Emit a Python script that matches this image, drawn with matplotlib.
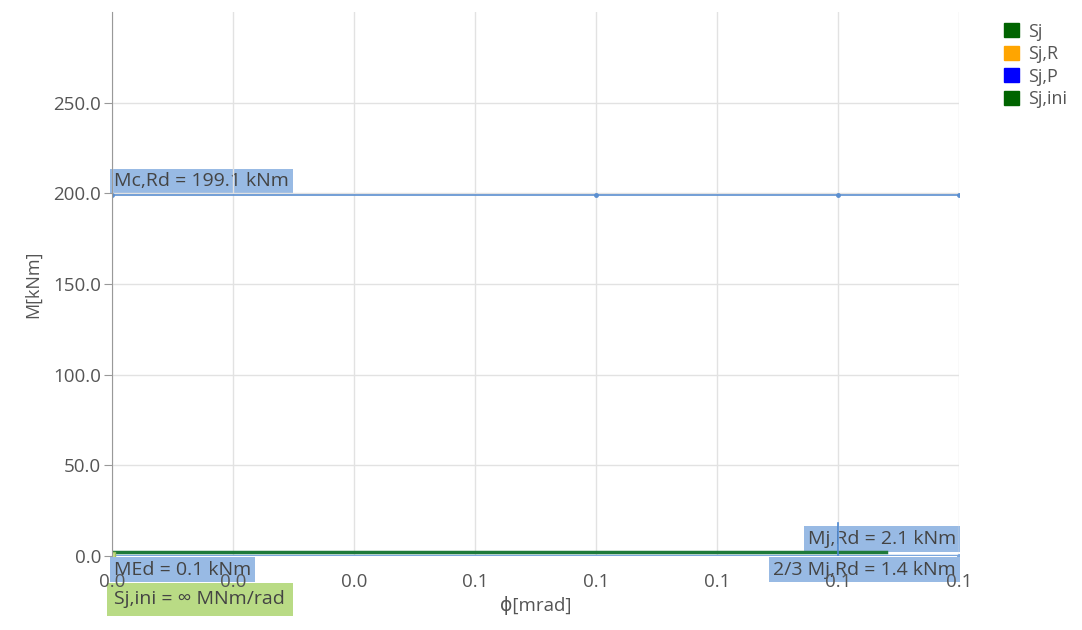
import matplotlib
matplotlib.use("Agg")
from matplotlib import pyplot as plt
from matplotlib.patches import Patch

plt.rcParams['font.family'] = ['Open Sans', 'DejaVu Sans']

# values
mc_rd = 199.1
mj_rd = 2.1
mj_rd_23 = 1.4
m_ed = 0.1
mc_x = [0.0, 0.08, 0.12, 0.14]
sj_x = [0.0, 0.128]
base_x = [0.0, 0.14]
x_ticks = [0.0, 0.02, 0.04, 0.06, 0.08, 0.10, 0.12, 0.14]
y_ticks = [0.0, 50.0, 100.0, 150.0, 200.0, 250.0]
legend_names = ["Sj", "Sj,R", "Sj,P", "Sj,ini"]
legend_colors = ["#006400", "#ffa500", "#0000ff", "#006400"]

txt = "#555555"
box_blue = "#8db3e2"

fig = plt.figure(figsize=(10.82, 6.3), dpi=100)
ax = fig.add_axes([0.1035, 0.1175, 0.7828, 0.8635])

ax.plot(mc_x, [mc_rd] * len(mc_x), color="#5b8fd0", lw=1.2, marker="o", ms=2.5)
ax.plot(base_x, [m_ed, m_ed], color="#7ba7dd", lw=2.5, marker="o", ms=2.5)
ax.plot(sj_x, [mj_rd, mj_rd], color="#1e7a3a", lw=2.5)
ax.plot([0.12, 0.12], [0.0, 18.0], color="#4a86d0", lw=1.2)
ax.plot([0.0], [0.5], marker="s", ms=5, color="#c8e08a", mec="#a0c060")

ax.set_xlim(0, 0.14)
ax.set_ylim(0, 300)
ax.set_xticks(x_ticks)
ax.set_yticks(y_ticks)
ax.xaxis.set_major_formatter(matplotlib.ticker.FormatStrFormatter("%.1f"))
ax.yaxis.set_major_formatter(matplotlib.ticker.FormatStrFormatter("%.1f"))
ax.tick_params(axis="x", length=0, labelsize=13.5, labelcolor=txt, pad=12)
ax.tick_params(axis="y", length=6, color="#999999", labelsize=13.5, labelcolor=txt, pad=2)
ax.grid(True, color="#e2e2e2", lw=1)
ax.set_axisbelow(True)
for s in ["top", "right", "bottom"]:
    ax.spines[s].set_visible(False)
ax.spines["left"].set_color("#999999")

ax.set_xlabel("ϕ[mrad]", fontsize=13.5, color=txt, labelpad=4)
ax.set_ylabel("M[kNm]", fontsize=13, color=txt, labelpad=8)

def label(x, y, s, ha, va, fc, pad=0.2):
    ax.text(x, y, s, ha=ha, va=va, fontsize=14, color="#444444", zorder=0.3,
            bbox=dict(boxstyle="square,pad=" + str(pad), fc=fc, ec="none", alpha=0.9))

label(0.0003, mc_rd + 2.5, "Mc,Rd = " + str(mc_rd) + " kNm", "left", "bottom", box_blue)
label(0.1395, 4.5, "Mj,Rd = " + str(mj_rd) + " kNm", "right", "bottom", box_blue)
label(0.1395, -2.5, "2/3 Mj,Rd = " + str(mj_rd_23) + " kNm", "right", "top", box_blue)
label(0.0003, -2.5, "MEd = " + str(m_ed) + " kNm", "left", "top", box_blue)
label(0.0004, -19.0, "Sj,ini = ∞ MNm/rad", "left", "top", "#b2d878", pad=0.4)

handles = [Patch(color=c, label=n) for n, c in zip(legend_names, legend_colors)]
fig.legend(handles=handles, loc="upper left", bbox_to_anchor=(0.913, 0.99),
           frameon=False, fontsize=13, handlelength=0.8, handleheight=0.8,
           handletextpad=0.5, labelspacing=0.25, labelcolor=txt)

fig.savefig("out.png", dpi=100)
